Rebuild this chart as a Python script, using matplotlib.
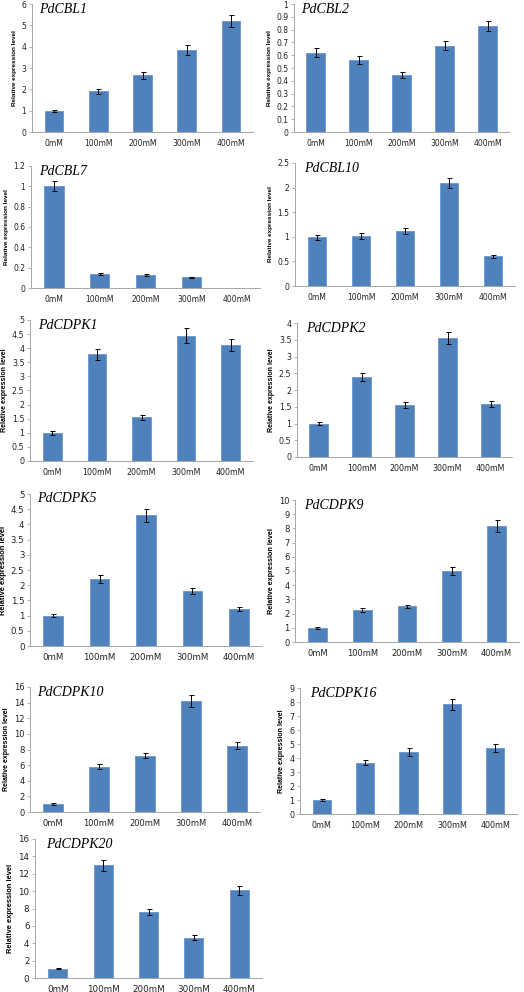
import matplotlib
matplotlib.use("Agg")
import matplotlib.pyplot as plt
import numpy as np

W, H = 524, 992

conc = ["0mM", "100mM", "200mM", "300mM", "400mM"]

genes = ["PdCBL1", "PdCBL2", "PdCBL7", "PdCBL10", "PdCDPK1", "PdCDPK2",
         "PdCDPK5", "PdCDPK9", "PdCDPK10", "PdCDPK16", "PdCDPK20"]

cbl1 = [1.0, 1.9, 2.65, 3.85, 5.2]
cbl1_err = [0.05, 0.1, 0.15, 0.22, 0.28]
cbl2 = [0.62, 0.565, 0.445, 0.675, 0.83]
cbl2_err = [0.035, 0.03, 0.02, 0.035, 0.04]
cbl7 = [1.0, 0.135, 0.13, 0.105, 0.0]
cbl7_err = [0.05, 0.01, 0.008, 0.006, 0.0]
cbl10 = [0.99, 1.01, 1.12, 2.1, 0.6]
cbl10_err = [0.05, 0.06, 0.06, 0.1, 0.04]
cdpk1 = [1.0, 3.78, 1.55, 4.45, 4.12]
cdpk1_err = [0.07, 0.2, 0.08, 0.25, 0.22]
cdpk2 = [1.0, 2.4, 1.55, 3.55, 1.58]
cdpk2_err = [0.05, 0.12, 0.08, 0.17, 0.08]
cdpk5 = [1.0, 2.2, 4.3, 1.82, 1.22]
cdpk5_err = [0.05, 0.12, 0.22, 0.1, 0.06]
cdpk9 = [1.0, 2.25, 2.52, 5.0, 8.2]
cdpk9_err = [0.05, 0.12, 0.12, 0.25, 0.42]
cdpk10 = [1.0, 5.8, 7.2, 14.2, 8.5]
cdpk10_err = [0.1, 0.35, 0.35, 0.75, 0.45]
cdpk16 = [1.0, 3.65, 4.45, 7.85, 4.7]
cdpk16_err = [0.06, 0.18, 0.28, 0.4, 0.28]
cdpk20 = [1.05, 12.95, 7.6, 4.65, 10.1]
cdpk20_err = [0.06, 0.6, 0.4, 0.25, 0.5]

values = [cbl1, cbl2, cbl7, cbl10, cdpk1, cdpk2, cdpk5, cdpk9, cdpk10, cdpk16, cdpk20]
errors = [cbl1_err, cbl2_err, cbl7_err, cbl10_err, cdpk1_err, cdpk2_err,
          cdpk5_err, cdpk9_err, cdpk10_err, cdpk16_err, cdpk20_err]
ymax = [6, 1, 1.2, 2.5, 5, 4, 5, 10, 16, 9, 16]
ystep = [1, 0.1, 0.2, 0.5, 0.5, 0.5, 0.5, 1, 2, 1, 2]

# panel boxes in pixels: left, top (ymax), right, bottom (y=0)
boxes = [(32, 4, 253, 132), (294, 4, 509, 132),
         (31, 166, 260, 288), (295, 163, 515, 286),
         (30, 320, 253, 461), (297, 323, 512, 457),
         (30, 494, 262, 646), (295, 500, 519, 642),
         (30, 687, 260, 812), (300, 688, 517, 814),
         (35, 839, 262, 978)]
# the lower panels were pasted in slightly larger
tick_size = [5.5, 5.5, 5.5, 5.5, 5.7, 5.7, 6.2, 6.0, 6.0, 5.8, 6.3]
label_size = [4.6, 4.6, 4.6, 4.6, 5.0, 5.0, 5.4, 5.2, 5.0, 5.0, 5.4]
title_x = [0.03, 0.035, 0.035, 0.04, 0.035, 0.04, 0.03, 0.04, 0.03, 0.045, 0.05]

fig = plt.figure(figsize=(W / 100, H / 100), dpi=100)
x = np.arange(len(conc))

for i, gene in enumerate(genes):
    l, t, r, b = boxes[i]
    ax = fig.add_axes([l / W, 1 - b / H, (r - l) / W, (b - t) / H])
    ax.bar(x, values[i], width=0.42, color="#4F81BD", edgecolor="#6A95CB", linewidth=0.6)
    ax.errorbar(x, values[i], yerr=errors[i], fmt="none", ecolor="black",
                elinewidth=0.7, capsize=1.8, capthick=0.7)
    ax.set_xlim(-0.5, 4.5)
    ax.set_ylim(0, ymax[i])
    ticks = np.round(np.arange(0, ymax[i] + ystep[i] / 2, ystep[i]), 2)
    ax.set_yticks(ticks)
    ax.set_yticklabels([f"{tk:g}" for tk in ticks])
    ax.set_xticks(x)
    ax.set_xticklabels(conc)
    for s in ("top", "right"):
        ax.spines[s].set_visible(False)
    for s in ("left", "bottom"):
        ax.spines[s].set_color("#A6A6A6")
        ax.spines[s].set_linewidth(0.7)
    ax.tick_params(axis="both", labelsize=tick_size[i], length=2, width=0.6,
                   color="#A6A6A6", pad=2, labelcolor="#222222")
    ax.tick_params(axis="x", length=0, pad=5)
    ax.set_ylabel("Relative expression level", fontsize=label_size[i],
                  fontweight="bold", family="Liberation Sans", labelpad=3)
    ax.text(title_x[i], 1.01, gene, transform=ax.transAxes, va="top", ha="left",
            fontsize=10, family="Liberation Serif", style="italic")

fig.savefig("out.png", dpi=100)
